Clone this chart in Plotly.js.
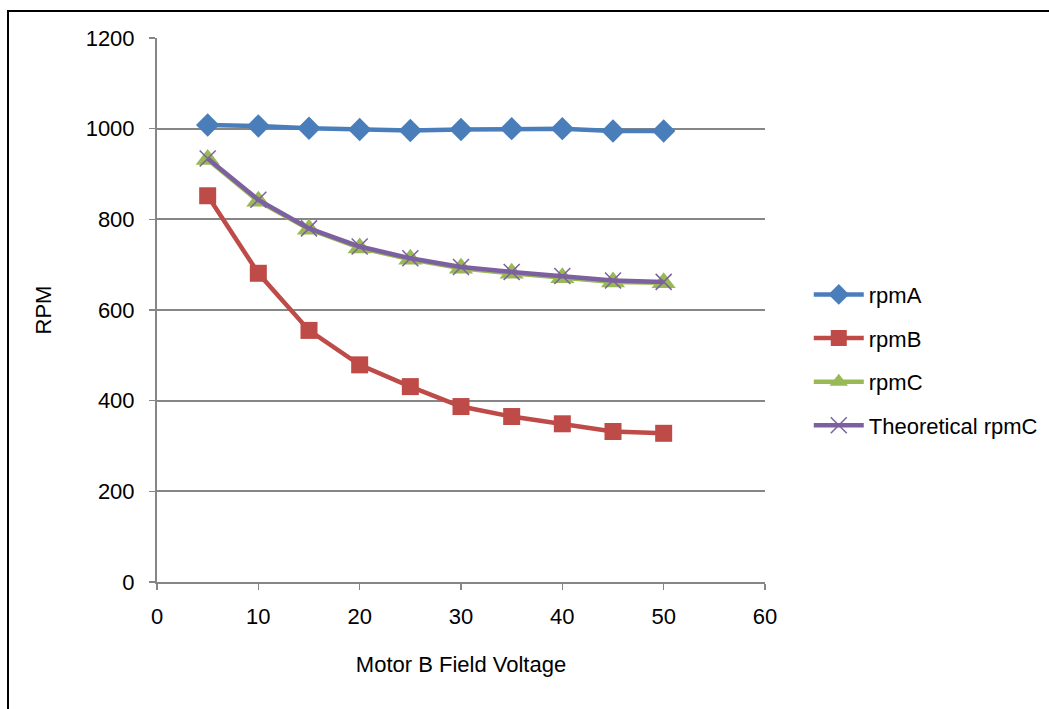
<!DOCTYPE html>
<html>
<head>
<meta charset="utf-8">
<script src="https://cdn.plot.ly/plotly-3.0.1.min.js"></script>
<style>
  html, body { margin: 0; padding: 0; background: #fff; overflow: hidden; }
  #chart { width: 1049px; height: 709px; position: relative; }
  #frame { position: absolute; left: 7px; top: 10px; width: 1200px; height: 900px;
           border: 2px solid #000; pointer-events: none; }
</style>
</head>
<body>
<div id="chart"></div>
<div id="frame"></div>
<script>
const voltage = [5, 10, 15, 20, 25, 30, 35, 40, 45, 50];
const rpmA = [1008, 1006, 1001, 998, 996, 998, 1000, 1000, 995, 995];
const rpmB = [852, 681, 555, 479, 431, 387, 365, 349, 332, 328];
const rpmC = [932, 840, 778, 737, 712, 692, 681, 671, 662, 660];
const theoreticalRpmC = [934, 843, 780, 740, 714, 695, 684, 675, 665, 662];
const seriesNames = ["rpmA", "rpmB", "rpmC", "Theoretical rpmC"];

const font = {family: "Liberation Sans, Arial, sans-serif", size: 22, color: "#000"};
const grid = "#868686";

const traces = [
  {x: voltage, y: rpmA, name: seriesNames[0], legendgroup: "a", mode: "lines+markers",
   line: {color: "#4A7EBB", width: 4.5},
   marker: {symbol: "diamond", size: 18, color: "#4A7EBB"}},
  {x: voltage, y: rpmB, name: seriesNames[1], legendgroup: "b", mode: "lines+markers",
   line: {color: "#BE4B48", width: 4.5},
   marker: {symbol: "square", size: 17, color: "#BE4B48"}},
  {x: voltage, y: rpmC, name: seriesNames[2], legendgroup: "c", mode: "lines+markers",
   line: {color: "#98B954", width: 4.5},
   marker: {symbol: "triangle-up", size: 21, color: "#98B954"}},
  {x: voltage, y: theoreticalRpmC, name: seriesNames[3], legendgroup: "d", mode: "lines+markers",
   line: {color: "#7D60A0", width: 4.5},
   marker: {symbol: "x-thin", size: 16, color: "#7D60A0", line: {color: "#7D60A0", width: 1.5}}}
];

const layout = {
  width: 1049, height: 709,
  margin: {l: 157, r: 284, t: 38, b: 127},
  paper_bgcolor: "#fff", plot_bgcolor: "#fff",
  font: font,
  showlegend: true,
  legend: {xref: "container", yref: "container", x: 0.771, xanchor: "left", y: 0.492, yanchor: "middle",
           font: {family: font.family, size: 22, color: "#000"},
           tracegroupgap: 12, bgcolor: "rgba(0,0,0,0)", itemwidth: 50},
  xaxis: {range: [0, 60], dtick: 10, tick0: 0, showgrid: false, zeroline: false,
          showline: true, linecolor: grid, linewidth: 2, automargin: false,
          ticks: "outside", ticklen: 6, tickcolor: grid, tickwidth: 1.5,
          tickfont: font, ticklabelstandoff: 8,
          title: {text: "Motor B Field Voltage", font: font, standoff: 28}},
  yaxis: {range: [0, 1200], dtick: 200, tick0: 0, showgrid: true, gridcolor: grid, gridwidth: 2,
          zeroline: false, showline: true, linecolor: grid, linewidth: 2, automargin: false,
          ticks: "outside", ticklen: 6, tickcolor: grid, tickwidth: 1.5,
          tickfont: font, ticklabelstandoff: 10,
          title: {text: "RPM", font: font, standoff: 28}}
};

Plotly.newPlot("chart", traces, layout, {displayModeBar: false, staticPlot: true});
</script>
</body>
</html>
